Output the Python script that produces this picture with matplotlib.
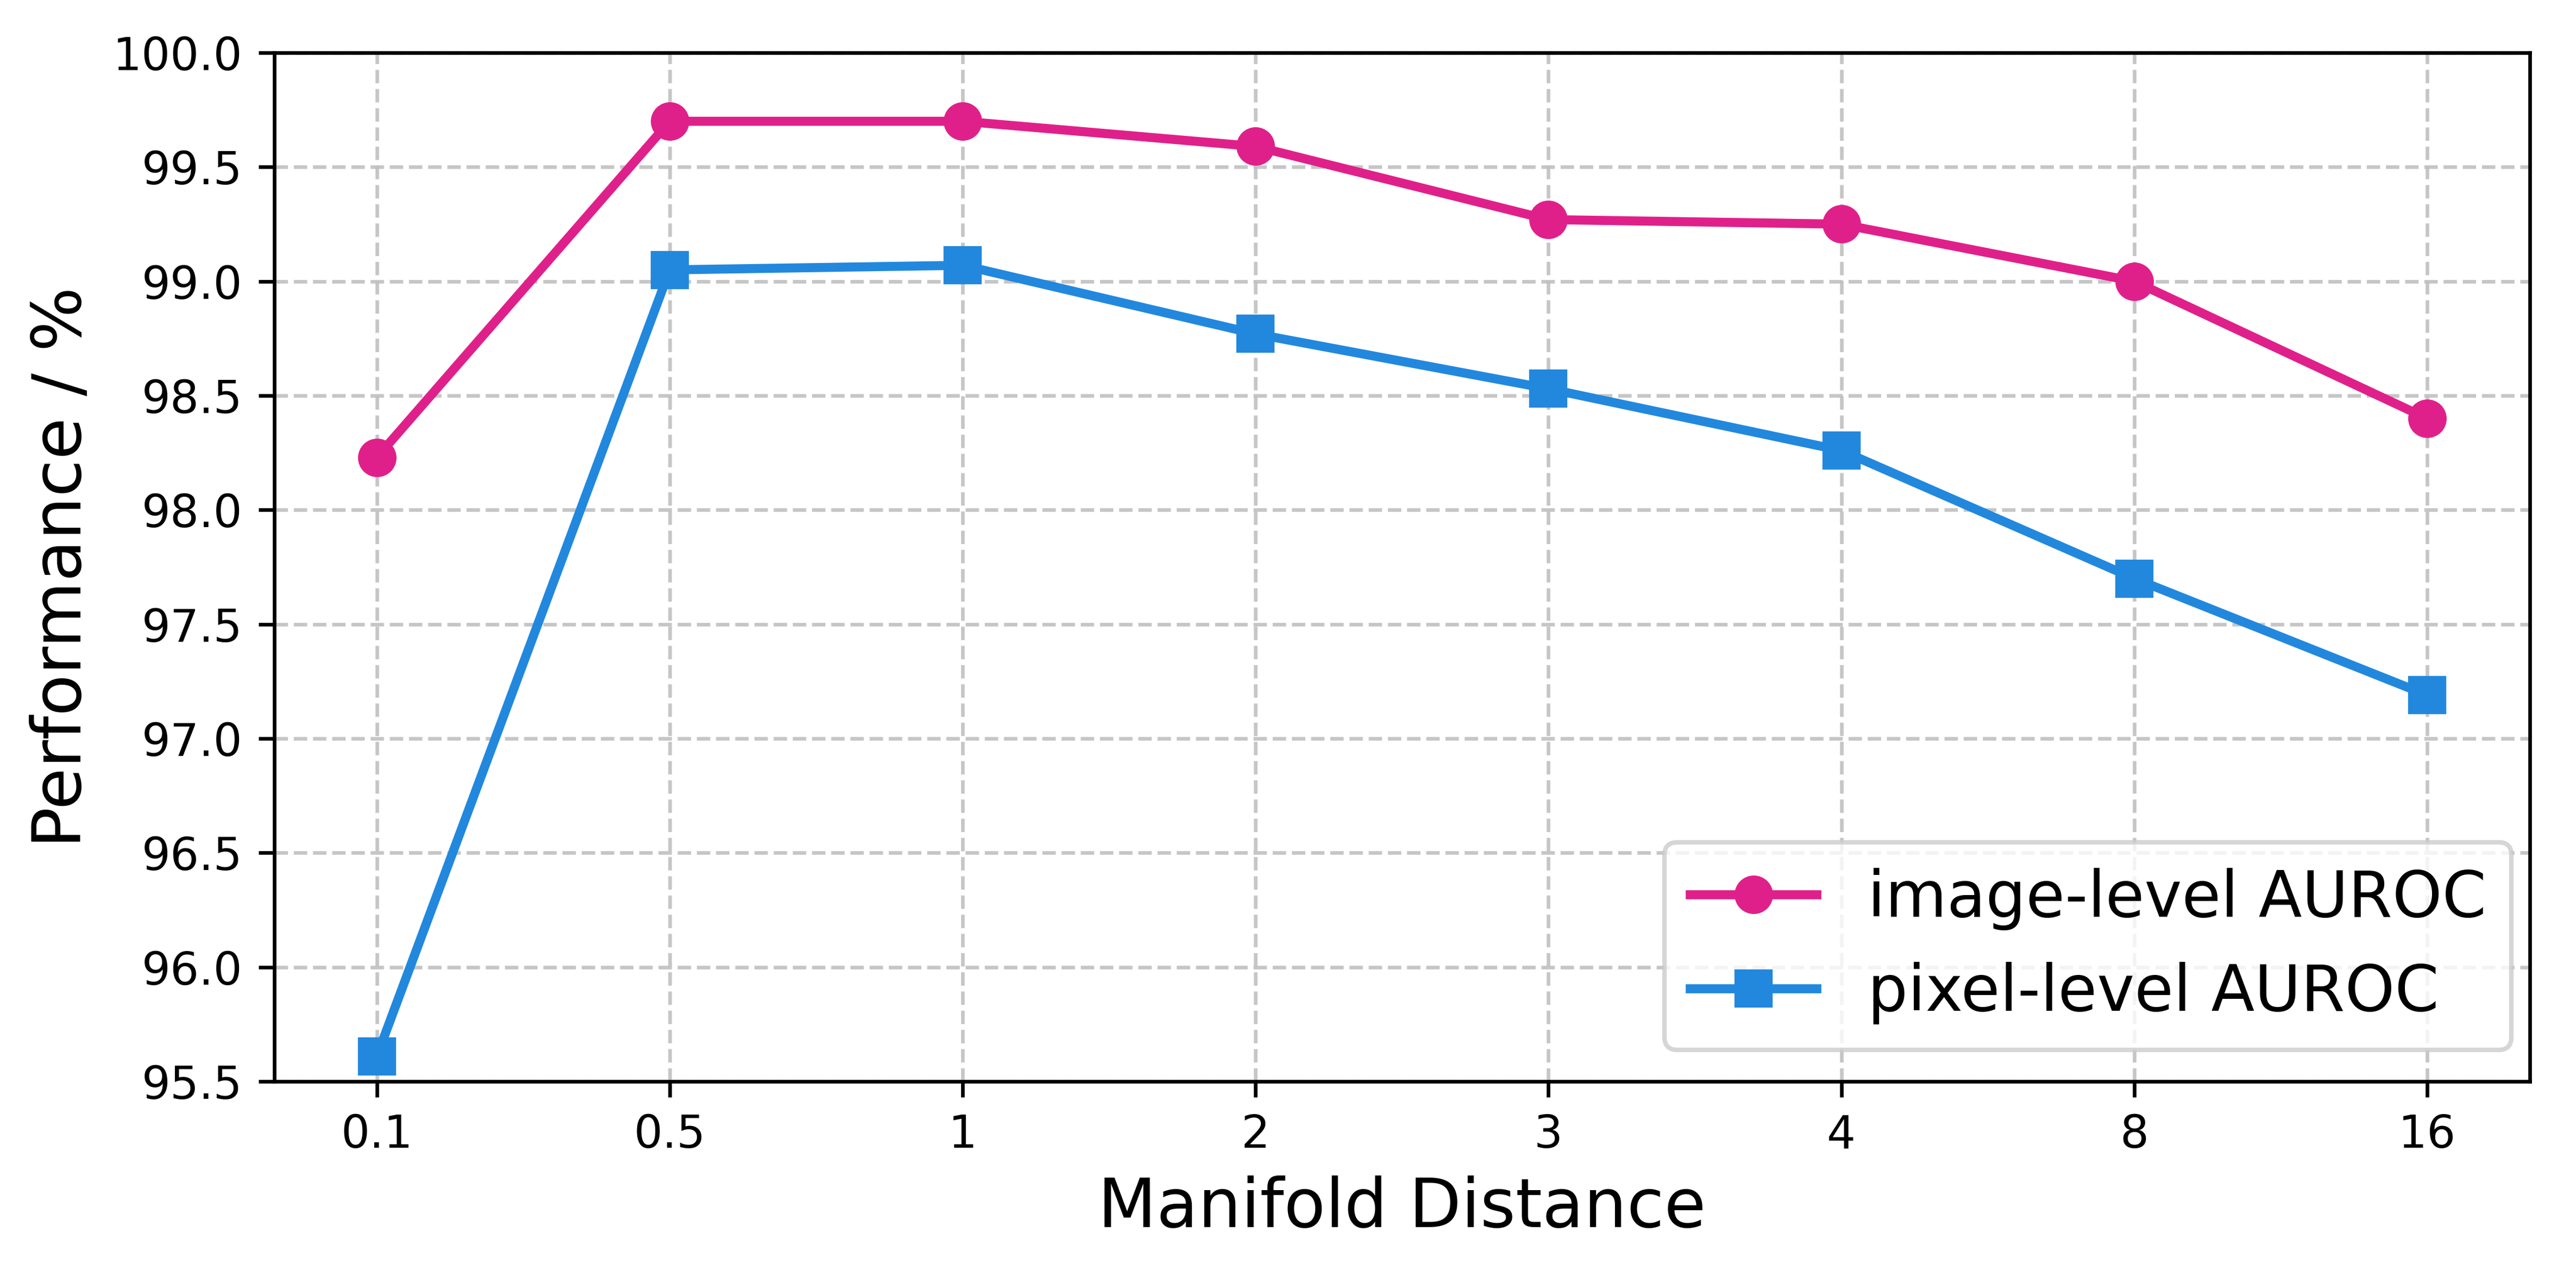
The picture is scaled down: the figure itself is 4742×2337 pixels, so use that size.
import matplotlib
matplotlib.use("Agg")
import matplotlib.pyplot as plt

distances = ["0.1", "0.5", "1", "2", "3", "4", "8", "16"]
image_auroc = [98.23, 99.70, 99.70, 99.59, 99.27, 99.25, 99.00, 98.40]
pixel_auroc = [95.61, 99.05, 99.07, 98.77, 98.53, 98.26, 97.70, 97.19]

PINK = "#e0208a"
BLUE = "#2288dd"

fig = plt.figure(figsize=(4742 / 600, 2337 / 600), dpi=600)
ax = fig.add_subplot(111)
fig.subplots_adjust(left=0.1065, right=0.982, top=0.9585, bottom=0.1485)

x = list(range(len(distances)))
ax.plot(x, image_auroc, color=PINK, marker="o", linewidth=2, markersize=7.5,
        label="image-level AUROC")
ax.plot(x, pixel_auroc, color=BLUE, marker="s", linewidth=2, markersize=7.5,
        label="pixel-level AUROC")

ax.set_xticks(x)
ax.set_xticklabels(distances)
ax.set_ylim(95.5, 100.0)
ax.set_yticks([95.5 + 0.5 * i for i in range(10)])
ax.tick_params(labelsize=10)

ax.set_xlabel("Manifold Distance", fontsize=15)
ax.set_ylabel("Performance / %", fontsize=15)
ax.grid(True, linestyle="--", color="#c0c0c0", alpha=0.9, linewidth=0.8)

ax.legend(loc="lower right", bbox_to_anchor=(1.006, 0), fontsize=14)

fig.savefig("out.png", dpi=600)
